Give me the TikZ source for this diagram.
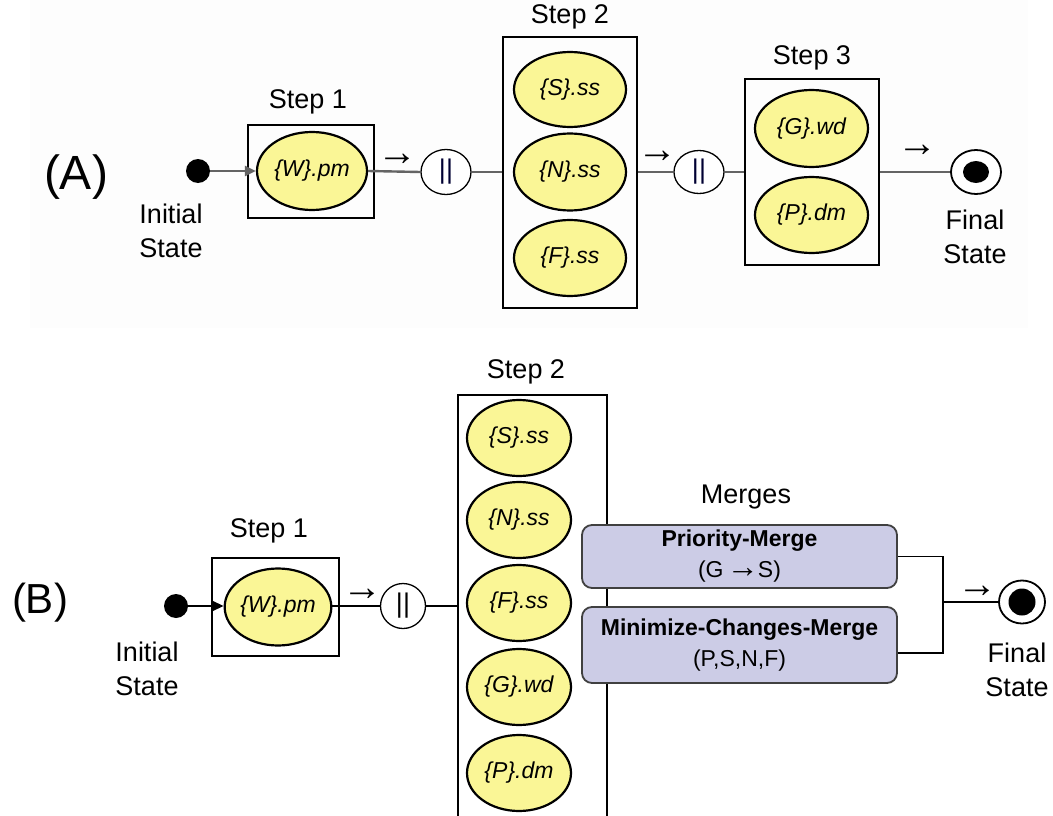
\documentclass[tikz,border=0pt]{standalone}
\usepackage{fontspec}
\setmainfont{Liberation Sans}
\usetikzlibrary{shapes.geometric,arrows.meta}

\definecolor{opfill}{RGB}{250,246,150}
\definecolor{mergefill}{RGB}{204,204,230}
\definecolor{mergeedge}{RGB}{64,64,64}
\definecolor{panelbg}{RGB}{253,253,253}
\definecolor{linkA}{RGB}{100,100,100}

\tikzset{
  lbl/.style={inner sep=0pt, align=center, font=\fontsize{27}{34}\selectfont},
  panel/.style={inner sep=0pt, font=\fontsize{48}{52}\selectfont},
  panelB/.style={inner sep=0pt, font=\fontsize{42}{46}\selectfont},
  arrowtxt/.style={inner sep=0pt, font=\fontsize{40}{42}\selectfont},
  op/.style={ellipse, draw=black, line width=2.2pt, fill=opfill, inner sep=0pt,
    font=\fontsize{23}{26}\selectfont\itshape},
  stepbox/.style={rectangle, draw=black, line width=1.6pt, inner sep=0pt},
  parop/.style={ellipse, draw=black, line width=1.3pt, fill=white, inner sep=0pt,
    font=\fontsize{27}{30}\selectfont, text=black!80!blue},
  initdot/.style={circle, fill=black, inner sep=0pt, minimum size=24pt},
  finalring/.style={ellipse, draw=black, line width=1.8pt, fill=white, inner sep=0pt},
  finaldot/.style={ellipse, fill=black, inner sep=0pt},
  mergebox/.style={rectangle, rounded corners=10pt, draw=mergeedge, line width=1.8pt,
    fill=mergefill, inner sep=0pt, align=center, font=\fontsize{23}{31}\selectfont},
  linkA/.style={draw=linkA, line width=2.4pt},
  linkB/.style={draw=black, line width=1.5pt},
  headA/.style={-{Triangle[length=11pt,width=10pt]}},
}
\newcommand{\longarrow}{{\fontsize{32}{31}\selectfont\kern-3pt →\kern-1pt}}

\begin{document}
\begin{tikzpicture}[x=1pt, y=-1pt]
\useasboundingbox (0,0) rectangle (1053,816);
\clip (0,0) rectangle (1053,816);

% ---------------- (A) sequential plan ----------------
\fill[panelbg] (30,0) rectangle (1028,328);
\node[panel] (tagA) at (76,177) {(A)};

\node[initdot] (ia) at (198,171) {};
\node[lbl] (ialab) at (171,231) {Initial\\State};

\node[stepbox, minimum width=126pt, minimum height=93pt] (s1a) at (311,171.5) {};
\node[lbl] (s1alab) at (308,102) {Step 1};
\node[op, minimum width=110pt, minimum height=78pt] (wa) at (312,171) {\{W\}.pm};

\node[parop, minimum width=50pt, minimum height=45pt] (pa1) at (446,172) {||};
\node[arrowtxt] (ra1) at (397,160) {→};

\node[stepbox, minimum width=134pt, minimum height=271pt] (s2a) at (570,172.5) {};
\node[lbl] (s2alab) at (570,17) {Step 2};
\node[op, minimum width=112pt, minimum height=75pt] (sa) at (570,89.5) {\{S\}.ss};
\node[op, minimum width=112pt, minimum height=77pt] (na) at (570,172) {\{N\}.ss};
\node[op, minimum width=112pt, minimum height=76pt] (fa) at (570,258) {\{F\}.ss};

\node[arrowtxt] (ra2) at (657,157) {→};
\node[parop, minimum width=50pt, minimum height=43pt] (pa2) at (699,172) {||};

\node[stepbox, minimum width=134pt, minimum height=186pt] (s3a) at (812,172) {};
\node[lbl] (s3alab) at (812,58) {Step 3};
\node[op, minimum width=113pt, minimum height=77pt] (ga) at (811.5,128.5) {\{G\}.wd};
\node[op, minimum width=113pt, minimum height=76pt] (pda) at (811.5,215) {\{P\}.dm};

\node[arrowtxt] (ra3) at (917,151) {→};
\node[finalring, minimum width=50pt, minimum height=44pt] (fsa) at (976,172) {};
\node[finaldot, minimum width=26pt, minimum height=22pt] (fsai) at (976,172) {};
\node[lbl] (fsalab) at (975,237) {Final\\State};

\draw[linkA, headA] (ia) -- (wa.west);
\draw[linkA] (wa.east) -- (pa1.west);
\draw[linkA] (pa1.east) -- (pa1 -| s2a.west);
\draw[linkA] (pa2 -| s2a.east) -- (pa2.west);
\draw[linkA] (pa2.east) -- (pa2 -| s3a.west);
\draw[linkA] (fsa -| s3a.east) -- (fsa.west);

% ---------------- (B) plan with merges ----------------
\node[panelB] (tagB) at (40,603) {(B)};

\node[initdot] (ib) at (176,606) {};
\node[lbl] (iblab) at (147,669) {Initial\\State};

\node[stepbox, minimum width=127pt, minimum height=98pt] (s1b) at (275.5,607) {};
\node[lbl] (s1blab) at (269,531) {Step 1};
\node[op, minimum width=106pt, minimum height=77pt] (wb) at (278,607) {\{W\}.pm};

\node[arrowtxt] (rb1) at (362,595) {→};
\node[parop, minimum width=45pt, minimum height=45pt, text=black] (pb) at (403,606) {||};

% step 2 column runs past the lower edge
\coordinate (s2bsw) at (458,820);
\coordinate (s2bnw) at (458,395);
\coordinate (s2bne) at (607,395);
\coordinate (s2bse) at (607,820);
\draw[line width=1.5pt] (s2bsw) -- (s2bnw) -- (s2bne) -- (s2bse);
\node[lbl] (s2blab) at (526,372) {Step 2};
\node[op, minimum width=104pt, minimum height=76pt] (sb) at (519,438) {\{S\}.ss};
\node[op, minimum width=104pt, minimum height=76pt] (nb) at (519,520) {\{N\}.ss};
\node[op, minimum width=104pt, minimum height=76pt] (fb) at (519,603) {\{F\}.ss};
\node[op, minimum width=104pt, minimum height=76pt] (gb) at (519,687) {\{G\}.wd};
\node[op, minimum width=104pt, minimum height=76pt] (pdb) at (519,773) {\{P\}.dm};

\node[lbl] (mlab) at (746,497) {Merges};
\node[mergebox, minimum width=315pt, minimum height=63pt] (m1) at (739.5,556.5)
  {\textbf{Priority-Merge}\\(G \longarrow S)};
\node[mergebox, minimum width=315pt, minimum height=76pt] (m2) at (739.5,645)
  {\textbf{Minimize-Changes-Merge}\\(P,S,N,F)};

\coordinate (jn) at (943,602);
\node[arrowtxt] (rb2) at (977,592) {→};
\node[finalring, minimum width=46pt, minimum height=43pt] (fsb) at (1022,602) {};
\node[finaldot, minimum width=27pt, minimum height=27pt] (fsbi) at (1022,602) {};
\node[lbl] (fsblab) at (1017,670) {Final\\State};

\draw[linkB, headA] (ib) -- (ib -| wb.west);
\draw[linkB] (wb.east |- pb) -- (pb.west);
\draw[linkB] (pb.east) -- (pb -| s2bnw);
\draw[linkB] (m1.east) -| (jn);
\draw[linkB] ([yshift=-8pt]m2.east) -| (jn);
\draw[linkB] (jn) -- (fsb.west);
\end{tikzpicture}
\end{document}
